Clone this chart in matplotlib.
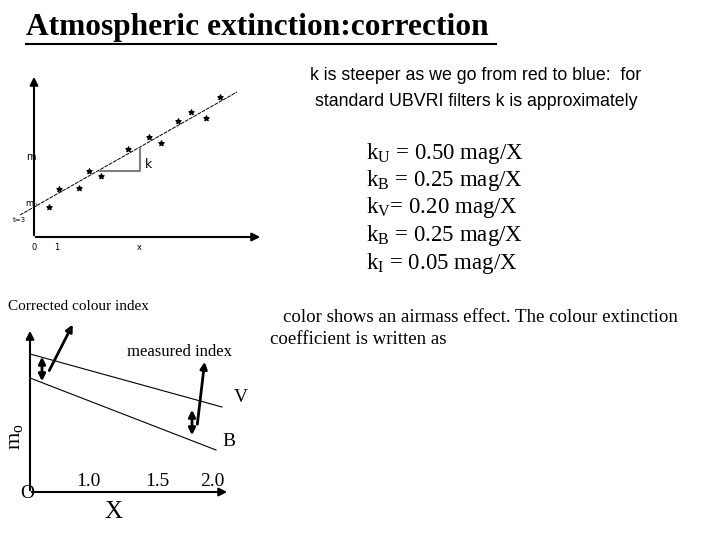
import matplotlib.pyplot as plt

# upper sketch: measured magnitudes vs airmass (pixel coords of the slide)
pts_x = [49, 59, 79, 89, 101, 128, 149, 161, 178, 191, 206, 220]
pts_y = [207, 189, 188, 171, 176, 149, 137, 143, 121, 112, 118, 97]
fit_x = [20, 237]
fit_y = [215, 92]

# lower sketch: V and B lines
v_x, v_y = [30, 222], [354, 407]
b_x, b_y = [30, 216], [378, 450]
tick_labels = ['1.0', '1.5', '2.0']
tick_x = [88, 157, 212]

k_lines = [r'k$_{\rm U}$ = 0.50 mag/X', r'k$_{\rm B}$ = 0.25 mag/X',
           r'k$_{\rm V}$= 0.20 mag/X', r'k$_{\rm B}$ = 0.25 mag/X',
           r'k$_{\rm I}$ = 0.05 mag/X']

plt.rcParams['mathtext.fontset'] = 'custom'
plt.rcParams['mathtext.rm'] = 'Liberation Serif'
serif = 'Liberation Serif'

fig = plt.figure(figsize=(7.2, 5.4), dpi=100)
ax = fig.add_axes([0, 0, 1, 1])
ax.set_xlim(0, 720)
ax.set_ylim(540, 0)
ax.axis('off')

ax.text(26, 28, 'Atmospheric extinction:correction', family=serif, fontsize=22.6,
        fontweight='bold', va='center')
ax.plot([26, 496], [44, 44], color='black', lw=1.5)

# upper sketch
arr = dict(arrowstyle='-|>', color='black', lw=1.5, mutation_scale=12)
ax.annotate('', xy=(34, 74), xytext=(34, 238), arrowprops=arr)
ax.annotate('', xy=(263, 237), xytext=(33, 237), arrowprops=arr)
ax.plot(fit_x, fit_y, color='black', lw=0.7, ls=(0, (4, 1)))
ax.scatter(pts_x, pts_y, marker='*', s=14, color='black')
ax.plot([100, 140, 140], [171, 171, 148], color='gray', lw=1.5)
ax.text(145, 164, 'k', fontsize=9, va='center')
ax.text(26, 157, 'm', fontsize=7, va='center')
ax.text(25, 205, r'm$_0$', fontsize=6, va='center')
ax.text(13, 220, 't=3', fontsize=5, va='center')
for lab, xx in zip(['0', '1', 'x'], [34, 57, 139]):
    ax.text(xx, 247, lab, fontsize=6, ha='center', va='center')

# right texts
ax.text(476, 76, 'k is steeper as we go from red to blue:  for', family='Liberation Sans',
        fontsize=12.8, ha='center', va='center')
ax.text(476, 101, 'standard UBVRI filters k is approximately', family='Liberation Sans',
        fontsize=12.8, ha='center', va='center')
for i, t in enumerate(k_lines):
    ax.text(366, 153 + i * 27.5, t, family=serif, fontsize=16.5, va='center')
ax.text(283, 317, 'color shows an airmass effect. The colour extinction', family=serif,
        fontsize=13.6, va='center')
ax.text(270, 340, 'coefficient is written as', family=serif, fontsize=13.6, va='center')

# lower sketch
ax.annotate('', xy=(30, 328), xytext=(30, 493), arrowprops=arr)
ax.annotate('', xy=(230, 492), xytext=(29, 492), arrowprops=arr)
ax.plot(v_x, v_y, color='black', lw=0.8)
ax.plot(b_x, b_y, color='black', lw=0.8)
darr = dict(arrowstyle='<|-|>', color='black', lw=2, mutation_scale=10)
ax.annotate('', xy=(42, 354), xytext=(42, 384), arrowprops=darr)
ax.annotate('', xy=(192, 407), xytext=(192, 438), arrowprops=darr)
sarr = dict(arrowstyle='-|>', color='black', lw=2, mutation_scale=10)
ax.annotate('', xy=(74, 322), xytext=(48, 373), arrowprops=sarr)
ax.annotate('', xy=(205, 359), xytext=(197, 427), arrowprops=sarr)
ax.text(8, 307, 'Corrected colour index', family=serif, fontsize=11, va='center')
ax.text(127, 352, 'measured index', family=serif, fontsize=12, va='center')
ax.text(234, 397, 'V', family=serif, fontsize=14, va='center')
ax.text(222, 441, 'B', family=serif, fontsize=14, va='center')
ax.text(17, 437, r'm$_{\rm o}$', family=serif, fontsize=16, rotation=90,
        ha='center', va='center')
for lab, xx in zip(tick_labels, tick_x):
    ax.text(xx, 482, lab, family=serif, fontsize=14, ha='center', va='center')
ax.text(27, 494, 'O', family=serif, fontsize=14, ha='center', va='center')
ax.text(113, 512, 'X', family=serif, fontsize=18, ha='center', va='center')

fig.savefig('out.png', dpi=100)
